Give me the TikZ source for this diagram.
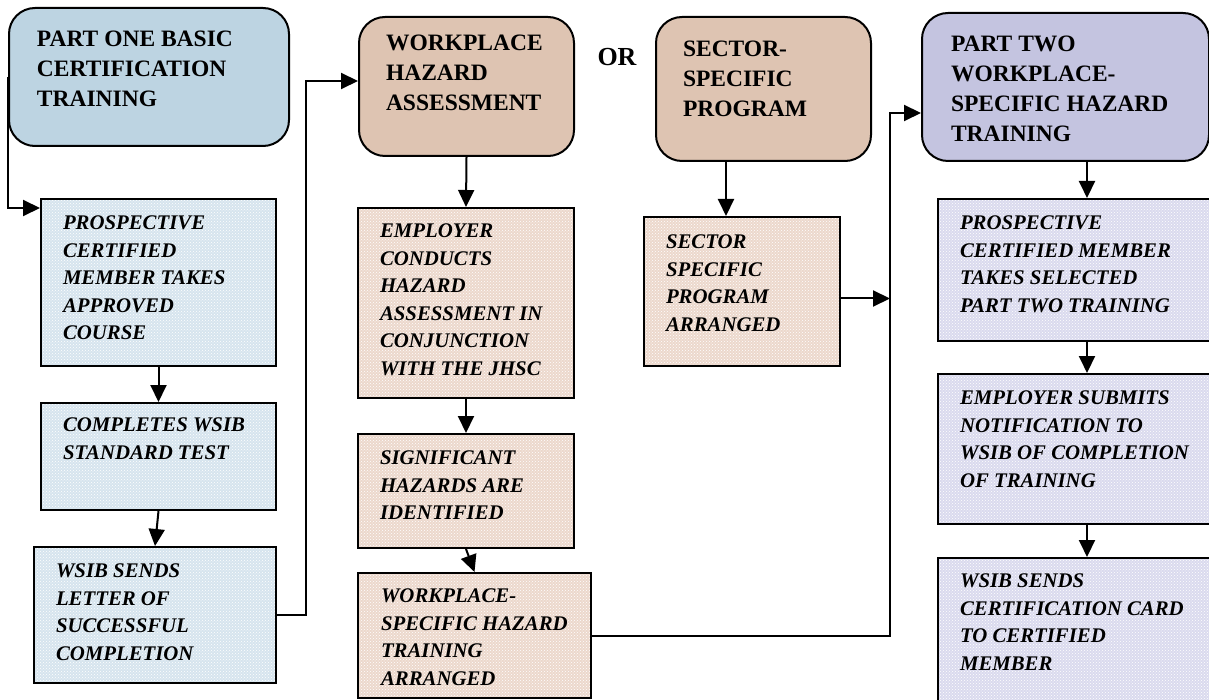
\documentclass[tikz,border=0pt]{standalone}
\usepackage{fontspec}
\setmainfont{Liberation Serif}
\usetikzlibrary{arrows.meta,patterns}

\definecolor{hdrblue}{RGB}{189,212,226}
\definecolor{hdrtan}{RGB}{222,196,178}
\definecolor{hdrlav}{RGB}{196,196,224}
\definecolor{boxblue}{RGB}{214,228,238}
\definecolor{boxtan}{RGB}{236,216,204}
\definecolor{boxlav}{RGB}{218,218,238}

% text block inside a box: width, height, top gap, left gap, lines
\newcommand{\inbox}[5]{\parbox[c][#2][t]{#1}{\vspace*{#3}\raggedright\leftskip=#4\relax #5\par}}

\begin{document}
\begin{tikzpicture}[x=1pt, y=-1pt,
  hdr/.style={draw=black, line width=2pt, rounded corners=26pt, anchor=north west, inner sep=0pt,
    font=\bfseries\fontsize{23.5}{30}\selectfont},
  stepbox/.style={draw=black, line width=2pt, anchor=north west, inner sep=0pt,
    preaction={fill=#1}, preaction={pattern=crosshatch dots, pattern color=white},
    font=\bfseries\itshape\fontsize{20.8}{27.5}\selectfont},
  arr/.style={-{Triangle[length=17pt,width=16pt]}, line width=2pt}]
\useasboundingbox (0,0) rectangle (1209,700);

% top row
\node[hdr, fill=hdrblue] (partone) at (8,7) {\inbox{280pt}{138pt}{23pt}{28pt}{PART ONE BASIC\\CERTIFICATION\\TRAINING}};
\node[hdr, fill=hdrtan] (wha) at (358,16) {\inbox{215pt}{139pt}{18pt}{27pt}{WORKPLACE\\HAZARD\\ASSESSMENT}};
\node[font=\bfseries\fontsize{26}{30}\selectfont] (or) at (617,57) {OR};
\node[hdr, fill=hdrtan] (ssp) at (655,16) {\inbox{215pt}{144pt}{24pt}{27pt}{SECTOR-\\SPECIFIC\\PROGRAM}};
\node[hdr, fill=hdrlav] (parttwo) at (921,12) {\inbox{287pt}{148pt}{23pt}{29pt}{PART TWO\\WORKPLACE-\\SPECIFIC HAZARD\\TRAINING}};

% part one column
\node[stepbox=boxblue] (prosp) at (40,198) {\inbox{235pt}{167pt}{17pt}{22pt}{PROSPECTIVE\\CERTIFIED\\MEMBER TAKES\\APPROVED\\COURSE}};
\node[stepbox=boxblue] (compl) at (40,402) {\inbox{235pt}{107pt}{15pt}{22pt}{COMPLETES WSIB\\STANDARD TEST}};
\node[stepbox=boxblue] (wsend) at (33,546) {\inbox{242pt}{136pt}{17pt}{22pt}{WSIB SENDS\\LETTER OF\\SUCCESSFUL\\COMPLETION}};

% hazard assessment column
\node[stepbox=boxtan] (empc) at (357,207) {\inbox{216pt}{190pt}{16pt}{22pt}{EMPLOYER\\CONDUCTS\\HAZARD\\ASSESSMENT IN\\CONJUNCTION\\WITH THE JHSC}};
\node[stepbox=boxtan] (sig) at (357,433) {\inbox{216pt}{114pt}{17pt}{22pt}{SIGNIFICANT\\HAZARDS ARE\\IDENTIFIED}};
\node[stepbox=boxtan] (wspec) at (357,572) {\inbox{233pt}{125pt}{16pt}{23pt}{WORKPLACE-\\SPECIFIC HAZARD\\TRAINING\\ARRANGED}};

% sector program column
\node[stepbox=boxtan] (sspa) at (643,216) {\inbox{196pt}{149pt}{18pt}{22pt}{SECTOR\\SPECIFIC\\PROGRAM\\ARRANGED}};

% part two column
\node[stepbox=boxlav] (prosp2) at (937,198) {\inbox{298pt}{142pt}{17pt}{22pt}{PROSPECTIVE\\CERTIFIED MEMBER\\TAKES SELECTED\\PART TWO TRAINING}};
\node[stepbox=boxlav] (empsub) at (937,373) {\inbox{298pt}{150pt}{17pt}{22pt}{EMPLOYER SUBMITS\\NOTIFICATION TO\\WSIB OF COMPLETION\\OF TRAINING}};
\node[stepbox=boxlav] (wcard) at (937,557) {\inbox{298pt}{160pt}{16pt}{22pt}{WSIB SENDS\\CERTIFICATION CARD\\TO CERTIFIED\\MEMBER}};

\coordinate (up1) at (306,81);
\coordinate (up2) at (890,113);

% connectors
\draw[arr] (partone.west) |- ([yshift=-10pt]prosp.north west);
\draw[arr] (prosp.south) -- (compl.north);
\draw[arr] (compl.south) -- (wsend.north);
\draw[arr] (wsend.east) -| (up1) -- (up1 -| wha.west);
\draw[arr] (wha.south) -- (empc.north);
\draw[arr] (empc.south) -- (sig.north);
\draw[arr] (sig.south) -- (wspec.north);
\draw[arr] ([xshift=-16pt]sspa.north |- ssp.south) -- ([xshift=-16pt]sspa.north);
\draw[arr] ([yshift=-7pt]sspa.east) -- ([yshift=-7pt]sspa.east -| up2);
\draw[arr] (wspec.east) -| (up2) -- (up2 -| parttwo.west);
\draw[arr] (prosp2.north |- parttwo.south) -- (prosp2.north);
\draw[arr] (prosp2.south) -- (empsub.north);
\draw[arr] (empsub.south) -- (wcard.north);
\end{tikzpicture}
\end{document}
